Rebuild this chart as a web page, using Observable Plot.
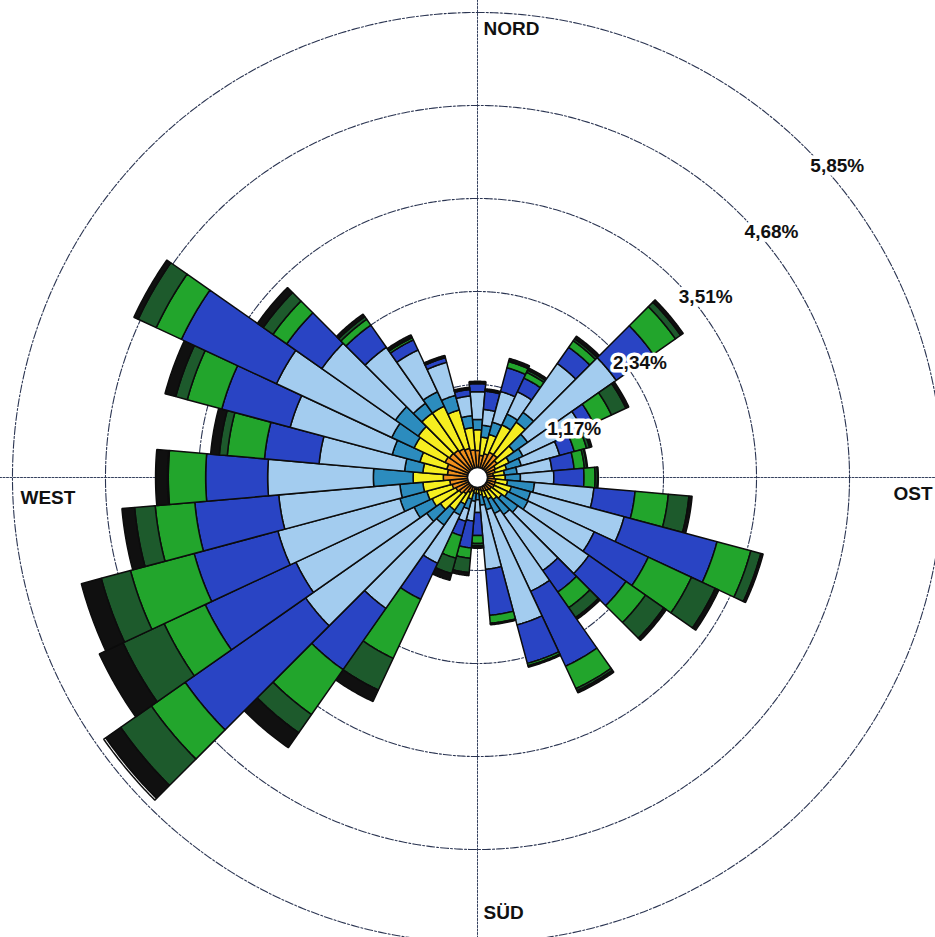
<!DOCTYPE html>
<html><head><meta charset="utf-8">
<script src="https://cdn.jsdelivr.net/npm/d3@7"></script>
<script src="https://cdn.jsdelivr.net/npm/@observablehq/plot@0.6"></script>
<style>body{margin:0;background:#fff} svg{display:block}</style>
</head><body><div id="chart"></div>
<script>
// ---- data (percent of time per direction sector and class) ----
const directions = d3.range(0, 360, 10);
const classes = ["c1", "c2", "c3", "c4", "c5", "c6", "c7", "c8", "c9"];
const classColors = ["#ef8f1c", "#f6ee20", "#2c8cbe", "#a3ccef", "#2944c4", "#22a52c", "#1d5a2c", "#101010", "#ffffff"];
const c1 = [0.34,0.28,0.31,0.35,0.35,0.30,0.25,0.23,0.20,0.21,0.23,0.23,0.23,0.21,0.20,0.19,0.18,0.16,0.15,0.15,0.18,0.21,0.25,0.28,0.30,0.33,0.35,0.43,0.38,0.40,0.45,0.43,0.42,0.40,0.38,0.35];
const c2 = [0.26,0.23,0.25,0.38,0.50,0.26,0.19,0.15,0.14,0.14,0.15,0.21,0.19,0.16,0.14,0.11,0.08,0.06,0.05,0.05,0.10,0.16,0.25,0.29,0.33,0.33,0.34,0.38,0.31,0.35,0.43,0.48,0.57,0.59,0.50,0.28];
const c3 = [0.13,0.15,0.16,0.15,0.15,0.21,0.19,0.19,0.16,0.19,0.34,0.25,0.28,0.25,0.23,0.20,0.16,0.13,0.08,0.10,0.13,0.15,0.23,0.21,0.25,0.35,0.29,0.50,0.23,0.36,0.31,0.35,0.15,0.20,0.19,0.15];
const c4 = [0.35,0.20,0.40,0.31,0.75,1.36,0.82,0.50,0.44,0.42,0.75,1.22,0.92,1.09,0.86,1.08,1.50,0.81,0.16,0.25,0.16,0.67,1.28,1.86,1.64,1.59,1.53,1.33,1.08,1.33,1.60,1.13,0.86,0.58,0.43,0.25];
const c5 = [0.10,0.23,0.31,0.19,0.25,0.57,0.16,0.19,0.28,0.38,0.52,1.21,0.75,0.57,0.33,1.04,0.50,0.58,0.29,0.34,0.19,0.50,0.94,1.85,1.26,1.09,1.06,0.78,0.69,0.89,1.32,0.54,0.34,0.14,0.06,0.08];
const c6 = [0.01,0.01,0.08,0.08,0.10,0.34,0.25,0.16,0.13,0.14,0.42,0.44,0.60,0.30,0.24,0.31,0.03,0.10,0.10,0.13,0.29,0.82,0.69,0.52,0.57,0.83,0.50,0.47,0.47,0.45,0.35,0.21,0.09,0.03,0.01,0.01];
const c7 = [0.01,0.01,0.01,0.03,0.03,0.08,0.20,0.04,0.03,0.03,0.26,0.13,0.33,0.28,0.15,0.03,0.01,0.01,0.03,0.18,0.20,0.44,0.28,0.47,0.57,0.38,0.26,0.01,0.10,0.15,0.25,0.15,0.04,0.01,0.01,0.01];
const c8 = [0.01,0.01,0.03,0.03,0.04,0.04,0.04,0.03,0.01,0.01,0.04,0.03,0.05,0.04,0.03,0.03,0.01,0.01,0.03,0.04,0.09,0.16,0.23,0.23,0.33,0.26,0.16,0.15,0.11,0.14,0.06,0.09,0.04,0.03,0.01,0.01];
const c9 = [0,0,0,0,0,0,0,0,0,0,0,0,0,0,0,0,0,0,0,0,0,0,0,0.03,0,0,0,0,0,0,0,0,0,0,0,0];
const ringValues = [1.17, 2.34, 3.51, 4.68, 5.85];
const ringLabels = ["1,17%", "2,34%", "3,51%", "4,68%", "5,85%"];
const compassLabels = ["NORD", "OST", "SÜD", "WEST"];
const compassAngles = [0, 90, 180, 270];

// ---- geometry helpers: polar layout via an azimuthal projection ----
const series = [c1, c2, c3, c4, c5, c6, c7, c8, c9];
const DEG_PER_PCT = 10;
const lat = v => 90 - v * DEG_PER_PCT;
const lon = a => 180 - a;
const HALF = 5;

function wedge(theta, v0, v1, cls) {
  const pts = [];
  for (let a = theta - HALF; a <= theta + HALF + 1e-9; a += 0.5) pts.push([lon(a), lat(v1)]);
  if (v0 <= 0) pts.push([0, 90]);
  else for (let a = theta + HALF; a >= theta - HALF - 1e-9; a -= 0.5) pts.push([lon(a), lat(v0)]);
  pts.push(pts[0].slice());
  const f = {type: "Feature", properties: {cls}, geometry: {type: "Polygon", coordinates: [pts]}};
  if (d3.geoArea(f) > 2 * Math.PI) pts.reverse();
  return f;
}

const wedges = [];
directions.forEach((theta, i) => {
  let acc = 0;
  series.forEach((s, k) => {
    const v = s[i];
    if (v > 0) wedges.push(wedge(theta, acc, acc + v, classes[k]));
    acc += v;
  });
});

const rings = ringValues.map(v => d3.geoCircle().center([0, 90]).radius(v * DEG_PER_PCT).precision(0.5)());
const spokes = compassAngles.map(a => ({type: "LineString", coordinates: [[lon(a), 90], [lon(a), lat(6.6)]]}));
const ringText = ringValues.map((v, i) => ({v, label: ringLabels[i]}));

const R_FRAME = 450; // px radius of the fitted frame
const PX_PER_PCT = 93 / 1.17;
const domainRadius = R_FRAME / PX_PER_PCT * DEG_PER_PCT;
const pxToPct = px => px / PX_PER_PCT;

const font = "Liberation Sans, Arial, sans-serif";
const txt = {fontSize: 19, fontWeight: "bold", fill: "#111"};
const plot = Plot.plot({
  width: 935,
  height: 937,
  marginLeft: 27, marginRight: 8, marginTop: 27, marginBottom: 10,
  projection: {type: "azimuthal-equidistant", rotate: [0, -90], clip: false,
    domain: d3.geoCircle().center([0, 90]).radius(domainRadius)()},
  color: {domain: classes, range: classColors},
  style: {fontFamily: font, background: "white", overflow: "hidden"},
  marks: [
    Plot.geo(spokes, {stroke: "#34405e", strokeWidth: 1, strokeDasharray: "2,1.5"}),
    Plot.geo(rings, {fill: "none", stroke: "#2b3552", strokeWidth: 1.1, strokeDasharray: "8,2,2,2"}),
    Plot.geo(wedges, {fill: d => d.properties.cls, stroke: "#0c0c0c", strokeWidth: 1.5, strokeLinejoin: "miter"}),
    Plot.dot([0], {x: () => 0, y: () => 90, r: 10, fill: "white", stroke: "#111", strokeWidth: 1.5}),
    Plot.text(ringText, {x: () => lon(45), y: d => lat(d.v), text: "label", textAnchor: "start", dx: 4, dy: 17,
      ...txt, stroke: "white", strokeWidth: 7, paintOrder: "stroke"}),
    Plot.text([0], {x: () => lon(0), y: () => lat(pxToPct(449)), text: () => compassLabels[0], textAnchor: "start", dx: 6, ...txt}),
    Plot.text([0], {x: () => lon(90), y: () => lat(pxToPct(455)), text: () => compassLabels[1], textAnchor: "end", dy: 16, ...txt}),
    Plot.text([0], {x: () => lon(180), y: () => lat(pxToPct(435)), text: () => compassLabels[2], textAnchor: "start", dx: 6, ...txt}),
    Plot.text([0], {x: () => lon(270), y: () => lat(pxToPct(457)), text: () => compassLabels[3], textAnchor: "start", dy: 20, ...txt})
  ]
});
document.getElementById("chart").append(plot);
</script>
</body></html>
